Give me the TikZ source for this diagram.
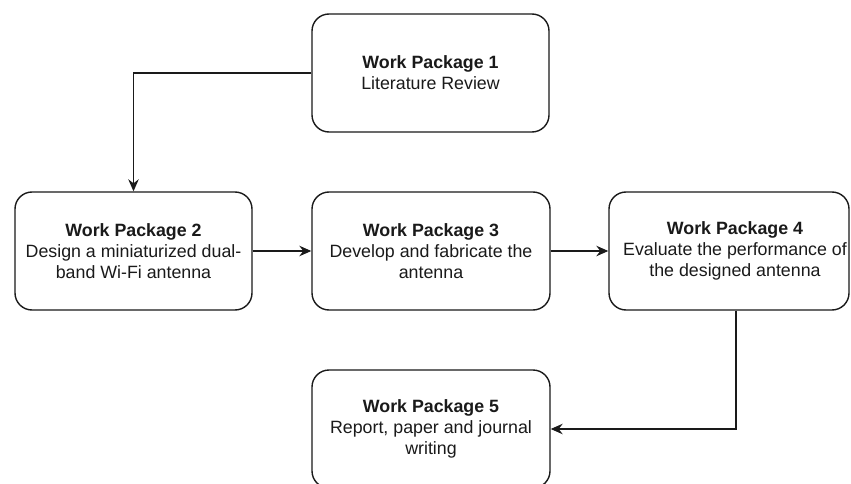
\documentclass[tikz,border=0pt]{standalone}
\usepackage{fontspec}
\setmainfont{Liberation Sans}
\usetikzlibrary{arrows.meta,calc}

\definecolor{ink}{HTML}{1A1A1A}

\tikzset{
  wpbox/.style={draw=ink, line width=1.4pt, rounded corners=17pt,
    minimum width=237pt, minimum height=118pt, inner sep=0pt,
    align=center, font=\fontsize{17.8}{21}\selectfont, text=ink},
  wptext/.style={align=center, inner sep=0pt,
    font=\fontsize{17.8}{21}\selectfont, text=ink},
  flow/.style={draw=ink, line width=1.1pt,
    -{Stealth[length=12pt, width=10.5pt, inset=4pt]}},
}

\begin{document}
\begin{tikzpicture}[x=1pt, y=-1pt]
  \clip (0,0) rectangle (851,484);
  \fill[white] (0,0) rectangle (851,484);

  \node[wpbox] (wp1) at (430.5,73) {\textbf{Work Package 1}\\Literature Review};
  \node[wpbox] (wp2) at (133.5,251) {\textbf{Work Package 2}\\Design a miniaturized dual-\\band Wi-Fi antenna};
  \node[wpbox, minimum width=238pt] (wp3) at (431,251) {\textbf{Work Package 3}\\Develop and fabricate the\\antenna};
  \node[wpbox, minimum width=240pt] (wp4) at (729,251) {};
  \node[wptext] (wp4txt) at (735,251) {\textbf{Work Package 4}\\Evaluate the performance of\\the designed antenna};
  \node[wpbox, minimum width=238pt] (wp5) at (431,429) {\textbf{Work Package 5}\\Report, paper and journal\\writing};

  \coordinate (wp4out) at ($(wp4.south)+(7,0)$);

  \draw[flow] (wp1.west) -| (wp2.north);
  \draw[flow] (wp2.east) -- (wp3.west);
  \draw[flow] (wp3.east) -- (wp4.west);
  \draw[flow] (wp4out) |- (wp5.east);
\end{tikzpicture}
\end{document}
